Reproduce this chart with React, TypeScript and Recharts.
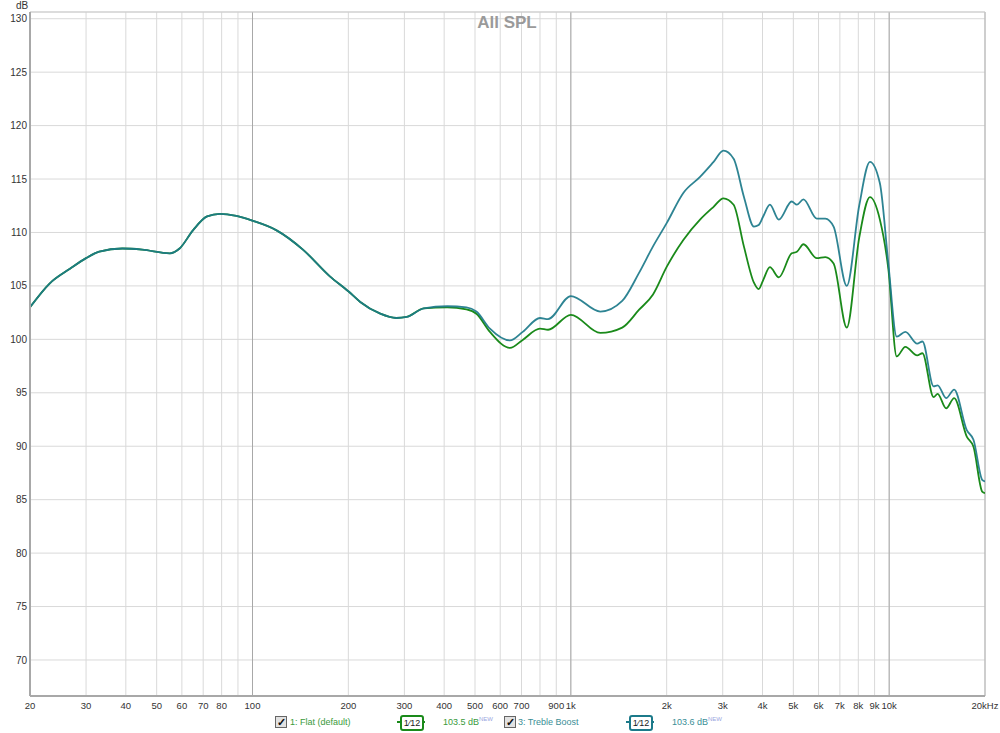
import { LineChart, Line, XAxis, YAxis, CartesianGrid, ReferenceLine } from "recharts";

const freqs = [
  20, 23, 26.7, 30, 33, 39, 45, 55, 59, 65, 72, 79, 89, 100, 119, 144, 175, 200, 218, 252, 283, 305, 345,
  409, 470, 505, 557, 644, 706, 800, 848, 1000, 1238, 1450, 1636, 1812, 2002, 2256, 2546, 2808, 3015, 3246,
  3496, 3760, 3890, 4020, 4220, 4500, 4940, 5130, 5380, 5920, 6300, 6690, 7360, 8050, 8700, 9350, 9940,
  10560, 11240, 12250, 12720, 13790, 14200, 15100, 16000, 17530, 18400, 19600, 20000,
];

const flatDb = [
  103.0, 105.2, 106.6, 107.6, 108.2, 108.5, 108.4, 108.05, 108.5, 110.2, 111.5, 111.75, 111.55, 111.1, 110.2,
  108.4, 105.9, 104.5, 103.5, 102.4, 102.0, 102.1, 102.9,
  103.0, 102.8, 102.4, 100.7, 99.2, 99.95, 101.0, 100.9, 102.3, 100.6, 101.1, 102.75, 104.2, 106.8, 109.3,
  111.2, 112.4, 113.2, 112.6, 108.7, 105.3, 104.7, 105.55, 106.75, 105.8, 108.05, 108.2, 108.9, 107.6, 107.7,
  107.1, 101.1, 109.5, 113.3, 111.2, 106.6, 98.4, 99.3, 98.5, 98.7, 94.6, 94.9, 93.55, 94.5, 90.9, 89.95,
  85.75, 85.6,
];

const trebleDb = [
  103.0, 105.2, 106.6, 107.6, 108.2, 108.5, 108.4, 108.05, 108.5, 110.2, 111.5, 111.75, 111.55, 111.1, 110.2,
  108.4, 105.9, 104.5, 103.5, 102.4, 102.0, 102.1, 102.9,
  103.1, 103.0, 102.6, 101.0, 99.9, 100.7, 102.0, 101.9, 104.05, 102.6, 103.6, 106.2, 108.7, 110.9, 113.7,
  115.2, 116.6, 117.65, 116.9, 113.35, 110.55, 110.7, 111.5, 112.6, 111.2, 112.9, 112.6, 113.1, 111.3, 111.3,
  110.55, 105.0, 112.5, 116.6, 114.6, 107.1, 100.25, 100.7, 99.6, 99.8, 95.6, 95.7, 94.5, 95.3, 91.5, 90.6,
  86.85, 86.7,
];

const xTicks = [
  20, 30, 40, 50, 60, 70, 80, 90, 100, 200, 300, 400, 500, 600, 700, 800, 900, 1000, 2000, 3000, 4000, 5000,
  6000, 7000, 8000, 9000, 10000, 20000,
];
const hiddenLabels = [90, 800];
const yTicks = [70, 75, 80, 85, 90, 95, 100, 105, 110, 115, 120, 125, 130];

const data = freqs.map((f, i) => ({ f, flat: flatDb[i], treble: trebleDb[i] }));

const GREEN = "#1a8a1a";
const TEAL = "#1c7a8a";

function formatFreq(v: number) {
  if (hiddenLabels.includes(v)) return "";
  if (v === 20000) return "20kHz";
  if (v >= 1000) return `${v / 1000}k`;
  return String(v);
}

function CheckBox({ left }: { left: number }) {
  return (
    <div
      style={{
        position: "absolute",
        left,
        top: 716,
        width: 10,
        height: 10,
        border: "1px solid #666",
        background: "#e2e2e2",
        fontSize: 11,
        lineHeight: "10px",
        textAlign: "center",
        color: "#111",
        fontWeight: "bold",
      }}
    >
      ✓
    </div>
  );
}

function SmoothIcon({ color, left }: { color: string; left: number }) {
  return (
    <div style={{ position: "absolute", left, top: 715, width: 28, height: 14 }}>
      <div style={{ position: "absolute", left: 0, top: 6, width: 28, height: 2, background: color }} />
      <div
        style={{
          position: "absolute",
          left: 3,
          top: 0,
          width: 20,
          height: 12,
          border: `2px solid ${color}`,
          borderRadius: 3,
          background: "#fff",
          fontSize: 9,
          lineHeight: "12px",
          textAlign: "center",
          color: "#222",
        }}
      >
        1⁄12
      </div>
    </div>
  );
}

const legendText = { position: "absolute" as const, top: 715, fontSize: 9, lineHeight: "14px" };

export default function App() {
  return (
    <div style={{ position: "relative", width: 1000, height: 733, fontFamily: "Arial, 'Liberation Sans', sans-serif", background: "#fff" }}>
      <style>{"body{margin:0}"}</style>
      <LineChart width={1000} height={733} data={data} margin={{ top: 12, right: 15, bottom: 0, left: 0 }}>
        <CartesianGrid stroke="#d9d9d9" strokeWidth={1} />
        <XAxis
          dataKey="f"
          type="number"
          scale="log"
          domain={[20, 20000]}
          ticks={xTicks}
          interval={0}
          tickFormatter={formatFreq}
          tickLine={false}
          tickSize={0}
          tickMargin={6}
          height={37}
          axisLine={{ stroke: "#a8a8a8", strokeWidth: 2 }}
          tick={{ fill: "#333", fontSize: 9.5 }}
          allowDataOverflow
        />
        <YAxis
          type="number"
          domain={[66.63, 130.63]}
          ticks={yTicks}
          interval={0}
          tickLine={false}
          tickSize={0}
          tickMargin={3}
          width={30}
          axisLine={{ stroke: "#a8a8a8", strokeWidth: 2 }}
          tick={{ fill: "#333", fontSize: 10 }}
          allowDataOverflow
        />
        <ReferenceLine x={100} stroke="#a8a8a8" />
        <ReferenceLine x={1000} stroke="#a8a8a8" />
        <ReferenceLine x={10000} stroke="#a8a8a8" />
        <ReferenceLine x={20000} stroke="#b0b0b0" />
        <ReferenceLine y={130.63} stroke="#cccccc" />
        <Line dataKey="flat" type="monotone" stroke={GREEN} strokeWidth={1.8} dot={false} isAnimationActive={false} />
        <Line dataKey="treble" type="monotone" stroke={TEAL} strokeWidth={1.8} strokeOpacity={0.92} dot={false} isAnimationActive={false} />
      </LineChart>

      <div style={{ position: "absolute", left: 7, top: 0, width: 1000, textAlign: "center", fontSize: 17, fontWeight: "bold", color: "#9a9a9a", lineHeight: "46px" }}>
        All SPL
      </div>
      <div style={{ position: "absolute", left: 16, top: 0, fontSize: 10, color: "#333" }}>dB</div>

      <CheckBox left={275} />
      <div style={{ ...legendText, left: 290, color: "#3a9a3a" }}>1: Flat (default)</div>
      <SmoothIcon color={GREEN} left={397} />
      <div style={{ ...legendText, left: 443, color: "#3a9a3a" }}>
        103.5 dB<sup style={{ fontSize: 6, color: "#9aa6e0", verticalAlign: "top", lineHeight: "8px" }}>NEW</sup>
      </div>

      <CheckBox left={504} />
      <div style={{ ...legendText, left: 518, color: "#3a8e96" }}>3: Treble Boost</div>
      <SmoothIcon color={TEAL} left={626} />
      <div style={{ ...legendText, left: 672, color: "#3a8e96" }}>
        103.6 dB<sup style={{ fontSize: 6, color: "#9aa6e0", verticalAlign: "top", lineHeight: "8px" }}>NEW</sup>
      </div>
    </div>
  );
}
